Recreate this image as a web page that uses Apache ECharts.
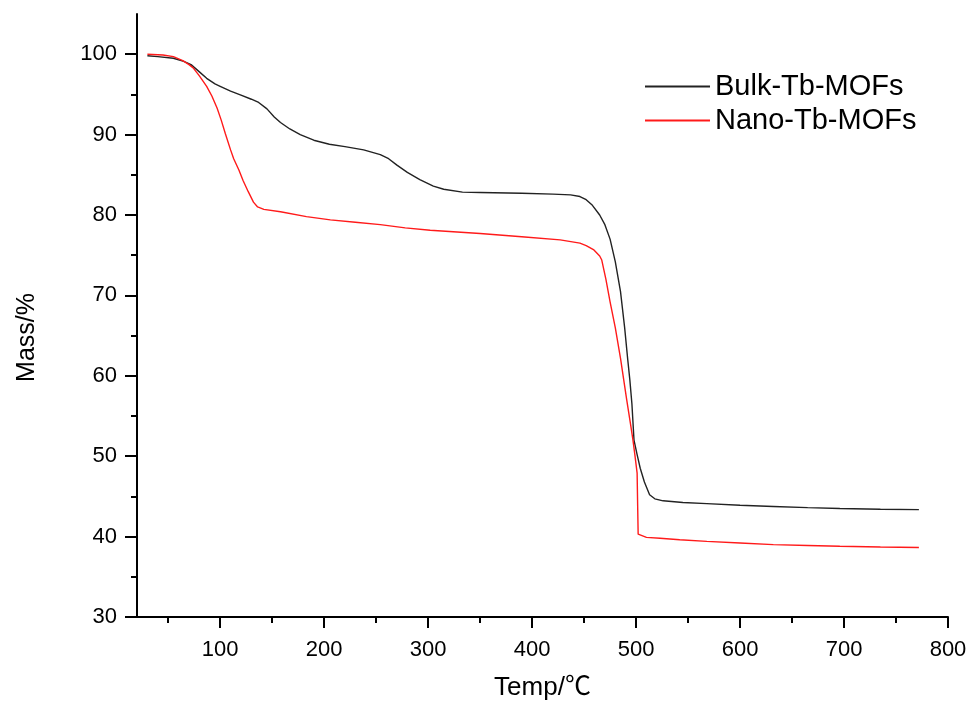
<!DOCTYPE html>
<html>
<head>
<meta charset="utf-8">
<script src="https://cdn.jsdelivr.net/npm/echarts@6/dist/echarts.min.js"></script>
<style>html,body{margin:0;padding:0;background:#fff}#c{width:973px;height:710px}</style>
</head>
<body>
<div id="c"></div>
<script>
const seriesNames = ['Bulk-Tb-MOFs', 'Nano-Tb-MOFs'];
const bulkData = [[30,99.8],[40,99.7],[55,99.5],[65,99.1],[72,98.7],[80,97.8],[87,97.0],[95,96.3],[100,96.0],[110,95.4],[120,94.9],[130,94.4],[137,94.0],[145,93.2],[152,92.2],[158,91.5],[167,90.7],[177,90.0],[190,89.3],[205,88.8],[220,88.5],[238,88.1],[254,87.5],[262,87.0],[270,86.2],[280,85.3],[292,84.4],[305,83.6],[315,83.2],[333,82.85],[350,82.8],[390,82.7],[420,82.6],[437,82.5],[446,82.3],[452,81.9],[458,81.2],[465,80.0],[470,78.8],[475,77.0],[480,74.2],[485,70.5],[489,66.0],[492,62.0],[494,59.5],[496,56.5],[498,52.0],[501,50.2],[504,48.5],[508,46.8],[513,45.2],[518,44.7],[526,44.45],[545,44.25],[568,44.1],[600,43.9],[632,43.75],[665,43.6],[696,43.5],[735,43.4],[772,43.35]];
const nanoData = [[30,100.0],[45,99.9],[55,99.7],[64,99.2],[70,98.7],[74,98.3],[80,97.3],[87,96.0],[92,94.8],[97,93.3],[101,91.8],[105,90.1],[110,88.1],[113,87.0],[118,85.6],[122,84.3],[127,82.9],[132,81.6],[136,81.0],[142,80.7],[158,80.4],[183,79.8],[206,79.4],[230,79.1],[254,78.8],[278,78.4],[302,78.1],[350,77.7],[390,77.3],[427,76.9],[446,76.5],[452,76.2],[459,75.7],[465,74.9],[467,74.4],[471,72.0],[475,69.2],[480,66.0],[485,62.2],[491,57.0],[495,53.7],[497,52.0],[499,50.0],[501,47.9],[501.5,44.0],[502,40.3],[510,39.9],[523,39.8],[542,39.6],[568,39.4],[600,39.2],[632,39.0],[665,38.9],[696,38.8],[735,38.7],[772,38.65]];
const xMajorTicks = [100,200,300,400,500,600,700,800];
const xMinorTicks = [50,150,250,350,450,550,650,750];
const yMajorTicks = [30,40,50,60,70,80,90,100];
const yMinorTicks = [35,45,55,65,75,85,95];

const font = '"Liberation Sans", Arial, "Noto Sans CJK SC", sans-serif';
const chart = echarts.init(document.getElementById('c'), null, {renderer: 'canvas'});
const axisLineStyle = {color: '#000', width: 2};
const blackCol = '#222222';
const redCol = '#ff1a1a';
chart.setOption({
  animation: false,
  backgroundColor: '#fff',
  grid: {left: 137, right: 25, top: 14, bottom: 93, containLabel: false},
  legend: {
    orient: 'vertical', left: 645, top: 71, padding: 0,
    itemWidth: 65, itemHeight: 2, itemGap: 3,
    icon: 'rect',
    textStyle: {fontFamily: font, fontSize: 29, color: '#000', lineHeight: 31},
    data: seriesNames
  },
  xAxis: [{
    type: 'value', min: 20, max: 800,
    name: 'Temp/℃', nameLocation: 'middle', nameGap: 58,
    nameTextStyle: {fontFamily: font, fontSize: 26, color: '#000'},
    axisLine: {show: true, onZero: false, lineStyle: axisLineStyle},
    axisTick: {show: true, inside: false, length: 11, lineStyle: {color: '#000', width: 2}, customValues: xMajorTicks},
    axisLabel: {fontFamily: font, fontSize: 22, color: '#000', margin: 22, customValues: xMajorTicks},
    splitLine: {show: false}
  }, {
    type: 'value', min: 20, max: 800, position: 'bottom',
    axisLine: {show: false},
    axisTick: {show: true, inside: false, length: 6, lineStyle: {color: '#000', width: 2}, customValues: xMinorTicks},
    axisLabel: {show: false},
    splitLine: {show: false}
  }],
  yAxis: [{
    type: 'value', min: 30, max: 105,
    axisLine: {show: true, onZero: false, lineStyle: axisLineStyle},
    axisTick: {show: true, inside: false, length: 12, lineStyle: {color: '#000', width: 2}, customValues: yMajorTicks},
    axisLabel: {fontFamily: font, fontSize: 22, color: '#000', margin: 20, customValues: yMajorTicks},
    splitLine: {show: false}
  }, {
    type: 'value', min: 30, max: 105, position: 'left',
    axisLine: {show: false},
    axisTick: {show: true, inside: false, length: 6, lineStyle: {color: '#000', width: 2}, customValues: yMinorTicks},
    axisLabel: {show: false},
    splitLine: {show: false}
  }],
  graphic: [{
    type: 'text', left: 15, top: 293, rotation: Math.PI / 2,
    style: {text: 'Mass/%', font: '25px ' + font, fill: '#000'}
  }],
  series: [{
    name: seriesNames[0], type: 'line', data: bulkData, xAxisIndex: 0, yAxisIndex: 0,
    symbol: 'none', smooth: false,
    lineStyle: {color: blackCol, width: 1.4}, itemStyle: {color: blackCol}
  }, {
    name: seriesNames[1], type: 'line', data: nanoData, xAxisIndex: 0, yAxisIndex: 0,
    symbol: 'none', smooth: false,
    lineStyle: {color: redCol, width: 1.4}, itemStyle: {color: redCol}
  }]
});
</script>
</body>
</html>
